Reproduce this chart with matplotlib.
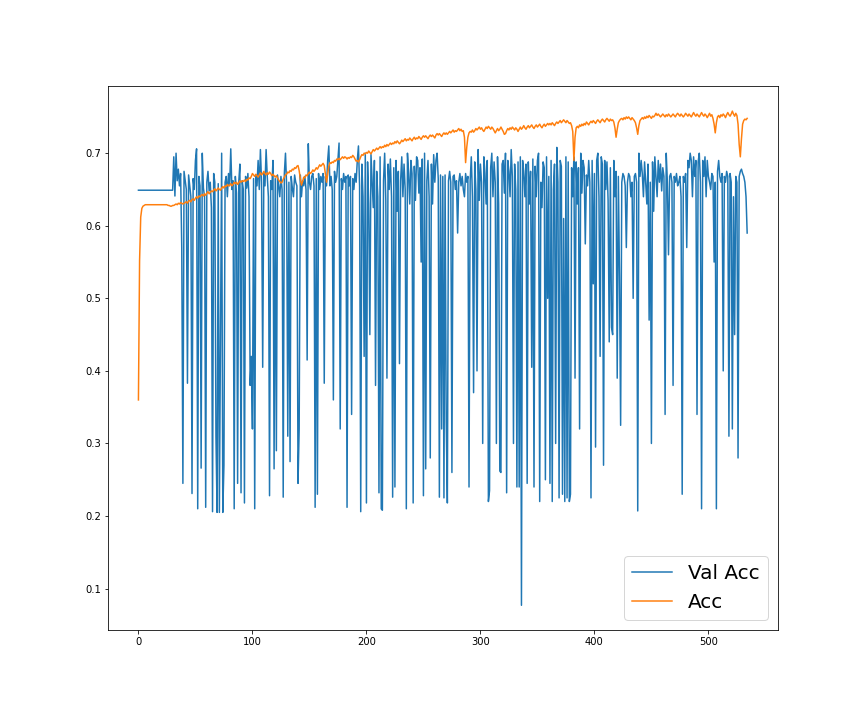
import matplotlib
matplotlib.use("Agg")
import matplotlib.pyplot as plt

# validation accuracy per epoch
val_acc = [
    0.649, 0.649, 0.649, 0.649, 0.649, 0.649, 0.649, 0.649, 0.649, 0.649,
    0.649, 0.649, 0.649, 0.649, 0.649, 0.649, 0.649, 0.649, 0.649, 0.649,
    0.649, 0.649, 0.649, 0.649, 0.649, 0.649, 0.649, 0.649, 0.649, 0.649,
    0.649,
    0.695, 0.641, 0.700, 0.662, 0.678, 0.655, 0.672, 0.570, 0.245, 0.675,
    0.662, 0.650, 0.383, 0.670, 0.655, 0.640, 0.231, 0.665, 0.650, 0.690,
    0.706, 0.210, 0.668, 0.655, 0.266, 0.700, 0.652, 0.640, 0.212, 0.660,
    0.675, 0.648, 0.660, 0.625, 0.206, 0.672, 0.660, 0.310, 0.205, 0.658,
    0.205, 0.450, 0.700, 0.205, 0.270, 0.660, 0.668, 0.640, 0.672, 0.655,
    0.706, 0.650, 0.662, 0.210, 0.668, 0.645, 0.245, 0.660, 0.685, 0.232,
    0.662, 0.650, 0.218, 0.668, 0.652, 0.672, 0.640, 0.380, 0.420, 0.320,
    0.665, 0.210, 0.670, 0.655, 0.690, 0.650, 0.705, 0.660, 0.405, 0.672,
    0.655, 0.705, 0.668, 0.640, 0.228, 0.662, 0.650, 0.690, 0.265, 0.665,
    0.290, 0.670, 0.655, 0.640, 0.668, 0.650, 0.226, 0.672, 0.700, 0.655,
    0.310, 0.660, 0.275, 0.668, 0.652, 0.640, 0.670, 0.660, 0.655, 0.245,
    0.320, 0.670, 0.640, 0.662, 0.655, 0.668, 0.650, 0.415, 0.713, 0.660,
    0.650, 0.668, 0.672, 0.655, 0.212, 0.665, 0.230, 0.672, 0.650, 0.668,
    0.660, 0.672, 0.383, 0.668, 0.655, 0.690, 0.710, 0.655, 0.668, 0.650,
    0.360, 0.675, 0.660, 0.668, 0.690, 0.714, 0.320, 0.665, 0.650, 0.672,
    0.660, 0.668, 0.212, 0.670, 0.655, 0.668, 0.340, 0.665, 0.650, 0.672,
    0.660, 0.690, 0.710, 0.655, 0.206, 0.685, 0.640, 0.420, 0.700, 0.218,
    0.688, 0.630, 0.450, 0.698, 0.660, 0.625, 0.690, 0.380, 0.675, 0.640,
    0.232, 0.695, 0.210, 0.208, 0.662, 0.700, 0.635, 0.390, 0.685, 0.650,
    0.692, 0.640, 0.226, 0.680, 0.240, 0.690, 0.620, 0.675, 0.410, 0.662,
    0.695, 0.640, 0.685, 0.650, 0.210, 0.700, 0.672, 0.630, 0.690, 0.672,
    0.218, 0.682, 0.635, 0.695, 0.690, 0.645, 0.680, 0.550, 0.692, 0.228,
    0.700, 0.265, 0.662, 0.690, 0.640, 0.280, 0.685, 0.630, 0.698, 0.660,
    0.690, 0.700, 0.665, 0.226, 0.670, 0.320, 0.668, 0.225, 0.670, 0.330,
    0.218, 0.662, 0.675, 0.660, 0.260, 0.668, 0.670, 0.650, 0.662, 0.590,
    0.660, 0.672, 0.655, 0.668, 0.650, 0.640, 0.672, 0.660, 0.668, 0.240,
    0.662, 0.695, 0.640, 0.370, 0.688, 0.650, 0.400, 0.705, 0.635, 0.685,
    0.660, 0.300, 0.695, 0.672, 0.630, 0.690, 0.220, 0.235, 0.680, 0.700,
    0.640, 0.688, 0.660, 0.300, 0.695, 0.630, 0.262, 0.260, 0.685, 0.690,
    0.645, 0.700, 0.232, 0.690, 0.675, 0.640, 0.705, 0.668, 0.300, 0.685,
    0.650, 0.240, 0.688, 0.240, 0.695, 0.077, 0.690, 0.675, 0.640, 0.685,
    0.245, 0.688, 0.630, 0.675, 0.405, 0.692, 0.240, 0.682, 0.640, 0.690,
    0.700, 0.220, 0.660, 0.625, 0.688, 0.680, 0.250, 0.695, 0.500, 0.668,
    0.245, 0.690, 0.220, 0.650, 0.685, 0.300, 0.708, 0.660, 0.225, 0.690,
    0.682, 0.230, 0.610, 0.220, 0.695, 0.225, 0.688, 0.220, 0.230, 0.680,
    0.640, 0.695, 0.390, 0.688, 0.630, 0.680, 0.320, 0.700, 0.645, 0.690,
    0.680, 0.575, 0.670, 0.655, 0.690, 0.660, 0.225, 0.690, 0.520, 0.672,
    0.295, 0.690, 0.700, 0.640, 0.420, 0.695, 0.685, 0.270, 0.690, 0.650,
    0.688, 0.635, 0.440, 0.680, 0.460, 0.450, 0.690, 0.640, 0.675, 0.390,
    0.668, 0.530, 0.325, 0.660, 0.672, 0.668, 0.655, 0.570, 0.660, 0.672,
    0.668, 0.640, 0.660, 0.500, 0.668, 0.672, 0.660, 0.207, 0.700, 0.668,
    0.690, 0.672, 0.640, 0.688, 0.660, 0.630, 0.685, 0.470, 0.660, 0.300,
    0.688, 0.620, 0.695, 0.668, 0.640, 0.690, 0.660, 0.685, 0.648, 0.680,
    0.668, 0.340, 0.700, 0.660, 0.560, 0.668, 0.672, 0.660, 0.380, 0.668,
    0.660, 0.672, 0.655, 0.660, 0.668, 0.640, 0.230, 0.668, 0.660, 0.672,
    0.570, 0.690, 0.680, 0.700, 0.690, 0.640, 0.695, 0.668, 0.690, 0.340,
    0.688, 0.700, 0.660, 0.210, 0.690, 0.668, 0.695, 0.640, 0.690, 0.668,
    0.660, 0.650, 0.672, 0.668, 0.550, 0.660, 0.210, 0.675, 0.690, 0.668,
    0.660, 0.672, 0.400, 0.668, 0.660, 0.675, 0.668, 0.310, 0.672, 0.660,
    0.320, 0.640, 0.450, 0.668, 0.660, 0.280, 0.668, 0.675, 0.678, 0.672,
    0.668, 0.660, 0.640, 0.590,
]

# training accuracy per epoch
acc = [
    0.360, 0.552, 0.612, 0.624, 0.627, 0.628, 0.629, 0.629, 0.629, 0.629,
    0.629, 0.629, 0.629, 0.629, 0.629, 0.629, 0.629, 0.629, 0.629, 0.629,
    0.629, 0.629, 0.629, 0.629, 0.629, 0.629, 0.628, 0.628, 0.627, 0.627,
    0.628, 0.628, 0.629, 0.630, 0.629, 0.631, 0.630, 0.632, 0.631, 0.630,
    0.631, 0.632, 0.633, 0.631, 0.634, 0.635, 0.633, 0.636, 0.637, 0.635,
    0.638, 0.640, 0.638, 0.641, 0.640, 0.642, 0.643, 0.641, 0.644, 0.642,
    0.645, 0.647, 0.644, 0.646, 0.648, 0.647, 0.649, 0.651, 0.648, 0.650,
    0.652, 0.650, 0.649, 0.652, 0.654, 0.652, 0.655, 0.654, 0.657, 0.655,
    0.656, 0.658, 0.655, 0.657, 0.660, 0.658, 0.660, 0.657, 0.659, 0.662,
    0.660, 0.662, 0.661, 0.663, 0.661, 0.664, 0.663, 0.666, 0.665, 0.668,
    0.672, 0.670, 0.668, 0.671, 0.669, 0.667, 0.670, 0.673, 0.670, 0.672,
    0.675, 0.672, 0.670, 0.673, 0.671, 0.674, 0.672, 0.669, 0.671, 0.669,
    0.667, 0.669, 0.666, 0.663, 0.661, 0.659, 0.660, 0.664, 0.667, 0.670,
    0.671, 0.674, 0.673, 0.676, 0.675, 0.678, 0.677, 0.680, 0.679, 0.682,
    0.683, 0.676, 0.665, 0.656, 0.661, 0.667, 0.666, 0.670, 0.669, 0.672,
    0.674, 0.672, 0.674, 0.677, 0.675, 0.677, 0.680, 0.678, 0.681, 0.684,
    0.682, 0.684, 0.686, 0.683, 0.672, 0.660, 0.671, 0.682, 0.687, 0.686,
    0.688, 0.687, 0.690, 0.689, 0.692, 0.691, 0.693, 0.691, 0.693, 0.695,
    0.693, 0.695, 0.694, 0.692, 0.694, 0.693, 0.695, 0.694, 0.697, 0.695,
    0.692, 0.689, 0.690, 0.688, 0.691, 0.695, 0.698, 0.697, 0.700, 0.699,
    0.701, 0.700, 0.703, 0.701, 0.699, 0.702, 0.705, 0.703, 0.705, 0.707,
    0.705, 0.707, 0.709, 0.707, 0.709, 0.708, 0.711, 0.709, 0.712, 0.710,
    0.712, 0.714, 0.712, 0.714, 0.713, 0.716, 0.714, 0.717, 0.715, 0.713,
    0.715, 0.718, 0.716, 0.718, 0.720, 0.717, 0.719, 0.718, 0.721, 0.719,
    0.717, 0.720, 0.722, 0.719, 0.721, 0.720, 0.723, 0.721, 0.719, 0.722,
    0.724, 0.722, 0.724, 0.722, 0.720, 0.723, 0.725, 0.723, 0.725, 0.723,
    0.721, 0.725, 0.727, 0.725, 0.727, 0.725, 0.723, 0.726, 0.728, 0.726,
    0.728, 0.726, 0.728, 0.730, 0.728, 0.730, 0.732, 0.729, 0.731, 0.730,
    0.732, 0.734, 0.731, 0.733, 0.730, 0.731, 0.722, 0.687, 0.708, 0.722,
    0.728, 0.730, 0.729, 0.732, 0.729, 0.731, 0.734, 0.732, 0.734, 0.736,
    0.733, 0.735, 0.732, 0.730, 0.733, 0.736, 0.734, 0.737, 0.735, 0.733,
    0.736, 0.734, 0.731, 0.728, 0.731, 0.734, 0.731, 0.733, 0.736, 0.733,
    0.730, 0.726, 0.727, 0.731, 0.734, 0.732, 0.735, 0.733, 0.736, 0.734,
    0.732, 0.735, 0.733, 0.730, 0.733, 0.736, 0.733, 0.735, 0.738, 0.735,
    0.733, 0.736, 0.738, 0.735, 0.737, 0.739, 0.736, 0.734, 0.737, 0.739,
    0.736, 0.738, 0.740, 0.737, 0.735, 0.738, 0.740, 0.737, 0.739, 0.741,
    0.739, 0.741, 0.739, 0.742, 0.740, 0.738, 0.741, 0.743, 0.741, 0.743,
    0.745, 0.742, 0.744, 0.746, 0.744, 0.742, 0.745, 0.743, 0.741, 0.742,
    0.738, 0.730, 0.690, 0.722, 0.735, 0.737, 0.735, 0.739, 0.737, 0.740,
    0.738, 0.741, 0.739, 0.743, 0.741, 0.739, 0.742, 0.744, 0.742, 0.745,
    0.743, 0.741, 0.744, 0.746, 0.744, 0.742, 0.745, 0.747, 0.745, 0.743,
    0.746, 0.748, 0.746, 0.744, 0.747, 0.745, 0.746, 0.743, 0.735, 0.722,
    0.733, 0.742, 0.745, 0.747, 0.748, 0.746, 0.749, 0.747, 0.750, 0.748,
    0.750, 0.748, 0.746, 0.749, 0.747, 0.745, 0.742, 0.735, 0.726, 0.738,
    0.745, 0.747, 0.749, 0.747, 0.750, 0.748, 0.751, 0.749, 0.752, 0.750,
    0.748, 0.751, 0.750, 0.752, 0.755, 0.752, 0.754, 0.752, 0.750, 0.752,
    0.754, 0.752, 0.750, 0.753, 0.751, 0.754, 0.752, 0.750, 0.752, 0.754,
    0.752, 0.750, 0.753, 0.755, 0.753, 0.751, 0.754, 0.752, 0.750, 0.752,
    0.755, 0.753, 0.751, 0.754, 0.752, 0.750, 0.753, 0.756, 0.753, 0.751,
    0.754, 0.752, 0.750, 0.753, 0.756, 0.753, 0.751, 0.754, 0.752, 0.749,
    0.752, 0.755, 0.751, 0.753, 0.748, 0.740, 0.728, 0.742, 0.750, 0.752,
    0.749, 0.753, 0.751, 0.754, 0.752, 0.749, 0.753, 0.756, 0.753, 0.751,
    0.754, 0.758, 0.754, 0.751, 0.755, 0.752, 0.740, 0.712, 0.695, 0.720,
    0.740, 0.745, 0.747, 0.746, 0.748,
]

fig, ax = plt.subplots(figsize=(12, 10), dpi=72)
fig.subplots_adjust(left=0.125, right=0.9, top=0.88, bottom=0.125)

ax.plot(val_acc, label="Val Acc")
ax.plot(acc, label="Acc")
ax.legend(loc="lower right", fontsize=20)

fig.savefig("out.png", dpi=72)
